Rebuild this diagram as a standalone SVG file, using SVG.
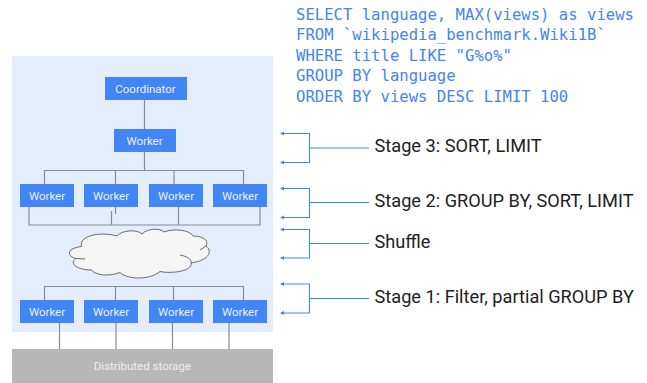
<svg xmlns="http://www.w3.org/2000/svg" width="647" height="383" viewBox="0 0 647 383">
<style>
.box{fill:#4285f4}
.bt{font-family:Roboto,"Liberation Sans",sans-serif;font-size:11.5px;fill:#e8f0fe;text-anchor:middle}
.c{stroke:#8c8c8c;stroke-width:1.2;fill:none}
.b{stroke:#4285f4;stroke-width:1.1;fill:none}
.lab{font-family:Roboto,"Liberation Sans",sans-serif;font-size:18.2px;fill:#212121}
.sql{font-family:"DejaVu Sans Mono","Liberation Mono",monospace;font-size:15.6px;fill:#4285f4}
</style>
<rect id="panel" x="12" y="56" width="261" height="276" fill="#e3edfd"/>
<g id="storage"><rect x="12" y="349" width="261" height="34" fill="#b7b7b7"/><text x="142.500" y="370" class="bt" style="fill:#eeeeee">Distributed storage</text></g>
<g id="connectors">
<path class="c" d="M144.500 100V129M144.500 152V170.500M44.500 184V170.500H243.500V184M115.500 170.500V184M174 170.500V184"/>
<path class="c" d="M29 207V225H260V207M111.500 211V225M115.500 207V214M178.500 207V225"/>
<path class="c" d="M44.500 300V286.500H243.500V300M115.500 286.500V300M173.500 286.500V300"/>
<path class="c" d="M59.500 323V349M116 323V349M172.500 323V349M229 323V349"/>
<g class="brackets">
<path class="b" d="M281 133.500H309.500V162.500H281M309.500 148H369"/>
<path class="b" d="M281 188.500H309.500V217.500H281M309.500 202.500H369"/>
<path class="b" d="M281 229.500H309.500V258H281M309.500 243.500H369"/>
<path class="b" d="M281 284H309.500V313H281M309.500 298.500H369"/>
<path fill="#4285f4" d="M280 133.500l4-2v4zM280 162.500l4-2v4zM280 188.500l4-2v4zM280 217.500l4-2v4zM280 229.500l4-2v4zM280 258l4-2v4zM280 284l4-2v4zM280 313l4-2v4z"/>
</g>
</g>
<g id="cloud"><path d="M81.700 246.500C78 236 100 231 117 236C122 230 137 229 142 234C148 228 160 228 164 232C174 228 190 230 193 236C204 236 209 241 206 246C212 250 211 260 191 263C193 271 172 274 160 271.500C150 280 128 280 120 272.500C108 277 95 275 91.700 270C78 270 68 264 76 258.500C66 256 67 248 81.700 246.500Z" fill="#f5f5f5" stroke="#6b6b6b" stroke-width="1"/><path d="M76 258.500L85 259M191 263C192 259 186 256 180 255M200 250L206 246" fill="none" stroke="#6b6b6b" stroke-width="1"/></g>
<g id="coordinator"><rect class="box" x="105" y="77" width="82" height="23"/><text class="bt" x="145.500" y="93">Coordinator</text></g>
<g id="worker-top"><rect class="box" x="114" y="129" width="62" height="23"/><text class="bt" x="144.500" y="145">Worker</text></g>
<g id="worker-2a"><rect class="box" x="20" y="184" width="54" height="23"/><text class="bt" x="47" y="200">Worker</text></g>
<g id="worker-2b"><rect class="box" x="84" y="184" width="54" height="23"/><text class="bt" x="111" y="200">Worker</text></g>
<g id="worker-2c"><rect class="box" x="149" y="184" width="54" height="23"/><text class="bt" x="176" y="200">Worker</text></g>
<g id="worker-2d"><rect class="box" x="213" y="184" width="54" height="23"/><text class="bt" x="240" y="200">Worker</text></g>
<g id="worker-1a"><rect class="box" x="20" y="300" width="54" height="23"/><text class="bt" x="47" y="316">Worker</text></g>
<g id="worker-1b"><rect class="box" x="84" y="300" width="54" height="23"/><text class="bt" x="111" y="316">Worker</text></g>
<g id="worker-1c"><rect class="box" x="149" y="300" width="54" height="23"/><text class="bt" x="176" y="316">Worker</text></g>
<g id="worker-1d"><rect class="box" x="213" y="300" width="54" height="23"/><text class="bt" x="240" y="316">Worker</text></g>
<g id="labels">
<text class="lab" x="374.500" y="152">Stage 3: SORT, LIMIT</text>
<text class="lab" x="374.500" y="207">Stage 2: GROUP BY, SORT, LIMIT</text>
<text class="lab" x="374.500" y="248">Shuffle</text>
<text class="lab" x="374.500" y="303">Stage 1: Filter, partial GROUP BY</text>
</g>
<g id="sql">
<text class="sql" x="296" y="20">SELECT language, MAX(views) as views</text>
<text class="sql" x="296" y="40">FROM `wikipedia_benchmark.Wiki1B`</text>
<text class="sql" x="296" y="61">WHERE title LIKE "G%o%"</text>
<text class="sql" x="296" y="81">GROUP BY language</text>
<text class="sql" x="296" y="102">ORDER BY views DESC LIMIT 100</text>
</g>
</svg>
